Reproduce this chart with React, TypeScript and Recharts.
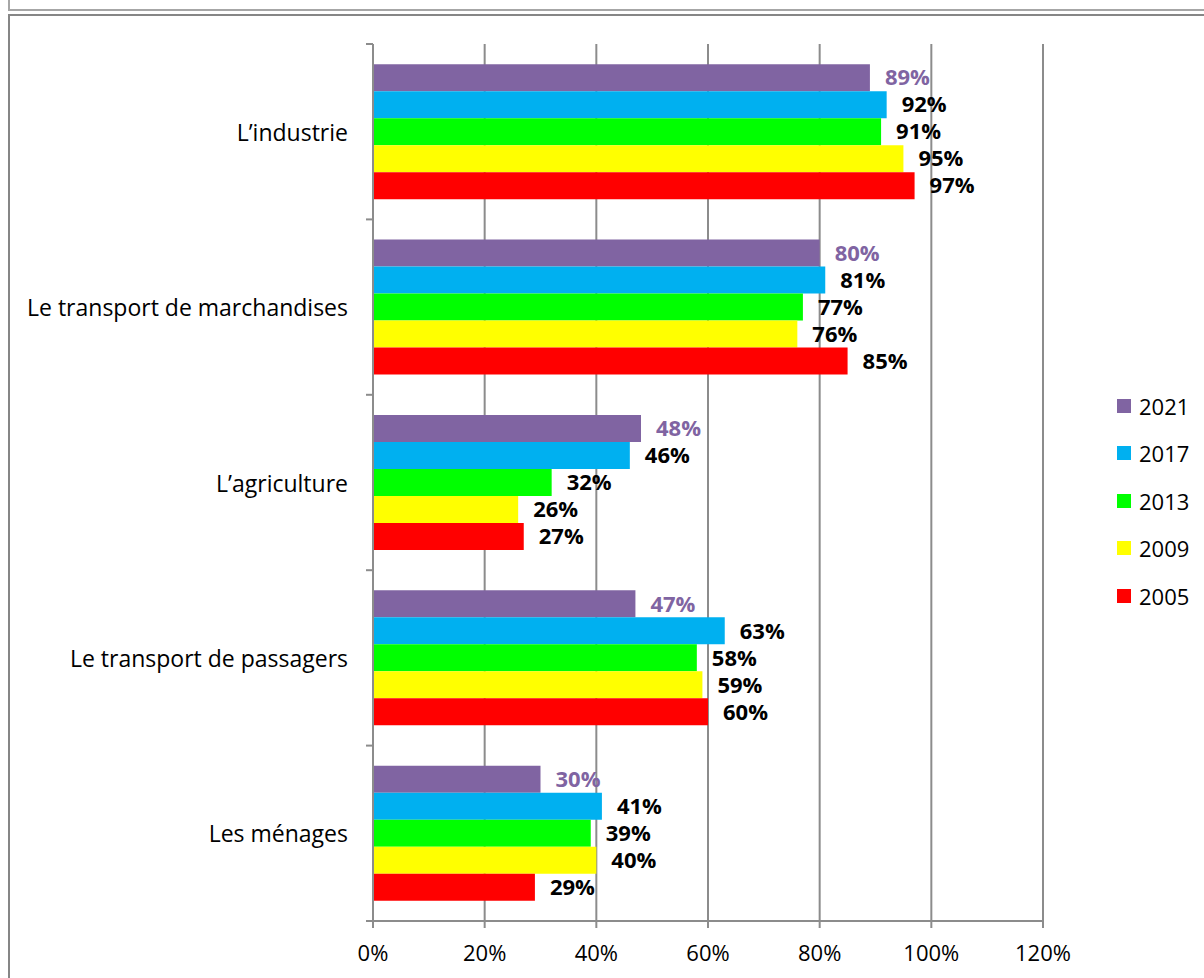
import React from "react";
import {
  BarChart,
  Bar,
  XAxis,
  YAxis,
  CartesianGrid,
  Legend,
  LabelList,
} from "recharts";

const FONT = "'Open Sans', Carlito, Calibri, sans-serif";

// ─── Data ────────────────────────────────────────────────────────────────────

const categories = [
  "L\u2019industrie",
  "Le transport de marchandises",
  "L\u2019agriculture",
  "Le transport de passagers",
  "Les ménages",
];

const years = ["2021", "2017", "2013", "2009", "2005"];

const values2021 = [89, 80, 48, 47, 30];
const values2017 = [92, 81, 46, 63, 41];
const values2013 = [91, 77, 32, 58, 39];
const values2009 = [95, 76, 26, 59, 40];
const values2005 = [97, 85, 27, 60, 29];

const xTicks = [0, 20, 40, 60, 80, 100, 120];

const seriesColors: Record<string, string> = {
  "2021": "#8064A2",
  "2017": "#00B0F0",
  "2013": "#00FF00",
  "2009": "#FFFF00",
  "2005": "#FF0000",
};

const seriesValues: Record<string, number[]> = {
  "2021": values2021,
  "2017": values2017,
  "2013": values2013,
  "2009": values2009,
  "2005": values2005,
};

const data = categories.map((name, i) => {
  const row: Record<string, string | number> = { name };
  years.forEach((y) => {
    row[y] = seriesValues[y][i];
  });
  return row;
});

// ─── Axis tick: label at band center, tick mark at band edge ─────────────────

const CategoryTick = (props: any) => {
  const { x, y, payload, index, visibleTicksCount } = props;
  const half = payload?.offset ?? 87.7;
  const isLast = index === visibleTicksCount - 1;
  return (
    <g>
      <line x1={x - 7} x2={x} y1={y - half} y2={y - half} stroke="#8c8c8c" strokeWidth={2} />
      {isLast ? (
        <line x1={x - 7} x2={x} y1={y + half} y2={y + half} stroke="#8c8c8c" strokeWidth={2} />
      ) : null}
      <text
        x={x - 25}
        y={y}
        textAnchor="end"
        dominantBaseline="central"
        fontFamily={FONT}
        fontSize={23}
        fill="#000"
      >
        {payload.value}
      </text>
    </g>
  );
};

const LegendContent = () => (
  <div style={{ fontFamily: FONT, fontSize: 22, color: "#000" }}>
    {years.map((y) => (
      <div key={y} style={{ height: 47.5, display: "flex", alignItems: "center" }}>
        <span
          style={{
            display: "inline-block",
            width: 14,
            height: 14,
            background: seriesColors[y],
            marginRight: 8,
          }}
        />
        <span>{y}</span>
      </div>
    ))}
  </div>
);

export default function App() {
  return (
    <div
      style={{
        position: "absolute",
        left: 0,
        top: 0,
        width: 1204,
        height: 978,
        overflow: "hidden",
        background: "#fff",
      }}
    >
      {/* frames */}
      <div
        style={{
          position: "absolute",
          left: 8,
          top: -10,
          width: 1300,
          height: 17,
          border: "2px solid #a6a6a6",
        }}
      />
      <div
        style={{
          position: "absolute",
          left: 8,
          top: 14,
          width: 1300,
          height: 1000,
          border: "2px solid #868686",
        }}
      />
      <div style={{ position: "absolute", left: 0, top: 0 }}>
        <BarChart
          width={1204}
          height={978}
          data={data}
          layout="vertical"
          margin={{ top: 44, right: 161, bottom: 7, left: 0 }}
          barCategoryGap="11.5%"
          barGap={0}
        >
          <CartesianGrid horizontal={false} stroke="#8c8c8c" strokeWidth={2} />
          <XAxis
            type="number"
            domain={[0, 120]}
            ticks={xTicks}
            tickFormatter={(v) => `${v}%`}
            height={50}
            tickSize={7}
            tickMargin={17}
            axisLine={{ stroke: "#8c8c8c", strokeWidth: 2 }}
            tickLine={{ stroke: "#8c8c8c", strokeWidth: 2 }}
            tick={{ fill: "#000", fontSize: 22, fontFamily: FONT }}
            interval={0}
          />
          <YAxis
            type="category"
            dataKey="name"
            width={373}
            tickSize={0}
            tickMargin={0}
            tickLine={false}
            axisLine={{ stroke: "#8c8c8c", strokeWidth: 2 }}
            tick={<CategoryTick />}
            interval={0}
          />
          <Legend
            layout="vertical"
            align="center"
            verticalAlign="middle"
            wrapperStyle={{ left: 1117, top: 382, width: 90 }}
            content={<LegendContent />}
          />
          {years.map((y) => (
            <Bar
              key={y}
              dataKey={y}
              fill={seriesColors[y]}
              isAnimationActive={false}
            >
              <LabelList
                dataKey={y}
                position="right"
                offset={15}
                formatter={(v: any) => `${v}%`}
                fill={y === "2021" ? "#8064A2" : "#000"}
                fontFamily={FONT}
                fontSize={22}
                fontWeight="bold"
              />
            </Bar>
          ))}
        </BarChart>
      </div>
    </div>
  );
}
